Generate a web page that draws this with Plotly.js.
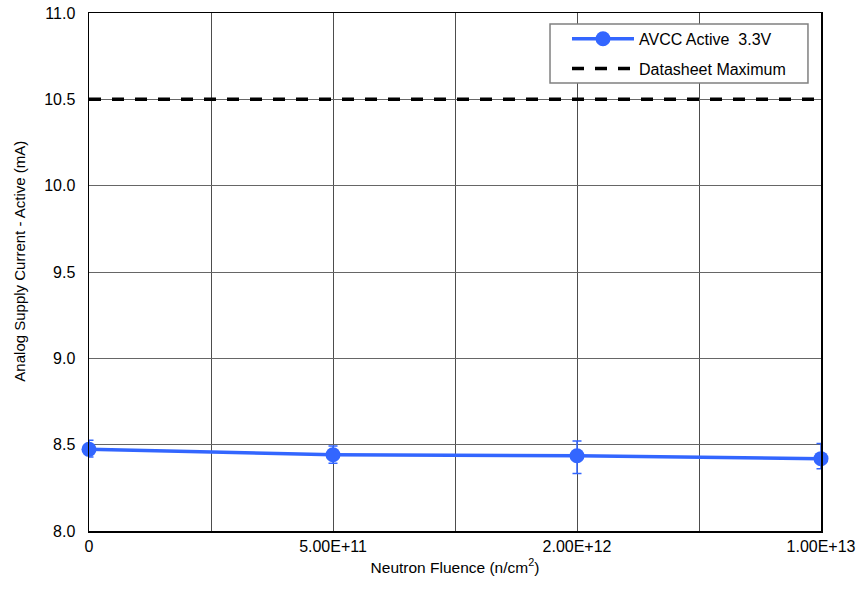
<!DOCTYPE html>
<html>
<head>
<meta charset="utf-8">
<script src="https://cdn.plot.ly/plotly-3.0.1.min.js"></script>
<style>html,body{margin:0;padding:0;background:#fff}#chart{width:859px;height:590px}</style>
</head>
<body>
<div id="chart"></div>
<script>
// Data
const fluenceLabels = ['0', '5.00E+11', '2.00E+12', '1.00E+13'];
const avccActive = [8.473, 8.442, 8.436, 8.419];
const errPlus = [0.052, 0.05, 0.085, 0.088];
const errMinus = [0.045, 0.05, 0.103, 0.058];
const datasheetMax = [10.5, 10.5];
const yTickVals = [8.0, 8.5, 9.0, 9.5, 10.0, 10.5, 11.0];
const yTickText = ['8.0', '8.5', '9.0', '9.5', '10.0', '10.5', '11.0'];

const xIdx = fluenceLabels.map((_, i) => i);
const xMid = xIdx.slice(1).map(i => i - 0.5);

const blue = '#3366FF';
const font = 'Liberation Sans, Arial, sans-serif';

const traces = [
  {
    x: xIdx, y: avccActive, type: 'scatter', mode: 'lines+markers',
    name: 'AVCC Active  3.3V', legendgroup: 'a',
    line: {color: blue, width: 3.5},
    marker: {color: blue, size: 15},
    error_y: {type: 'data', symmetric: false, array: errPlus, arrayminus: errMinus,
              color: blue, thickness: 1.5, width: 4.5},
    cliponaxis: false
  },
  {
    x: [xIdx[0], xIdx[xIdx.length - 1]], y: datasheetMax, type: 'scatter', mode: 'lines',
    name: 'Datasheet Maximum', legendgroup: 'b',
    line: {color: '#000000', width: 3.5, dash: '12px,11px'}
  }
];

const layout = {
  width: 859, height: 590,
  margin: {l: 89, r: 38, t: 13, b: 59},
  paper_bgcolor: '#ffffff', plot_bgcolor: '#ffffff',
  font: {family: font, size: 16, color: '#000'},
  showlegend: true,
  legend: {
    x: 0.653, y: 0.983, xanchor: 'left', yanchor: 'top',
    bgcolor: 'rgba(0,0,0,0)', borderwidth: 0,
    font: {family: font, size: 16, color: '#000'},
    itemwidth: 62, traceorder: 'grouped', tracegroupgap: 6
  },
  shapes: [{
    type: 'rect', xref: 'paper', yref: 'paper', layer: 'above',
    x0: 0.6298, x1: 0.9822, y0: 0.8649, y1: 0.9788,
    fillcolor: '#ffffff', line: {color: '#808080', width: 1.5}
  }],
  annotations: [{
    text: 'Analog Supply Current - Active (mA)', textangle: -90,
    xref: 'paper', yref: 'paper', x: 0, y: 0.52, xanchor: 'center', yanchor: 'middle',
    xshift: -69, showarrow: false, font: {family: font, size: 15, color: '#000'}
  }],
  xaxis: {
    range: [0, 3], tickmode: 'array', tickvals: xIdx, ticktext: fluenceLabels,
    showgrid: true, gridcolor: '#4d4d4d', gridwidth: 1,
    minor: {tickmode: 'array', tickvals: xMid, showgrid: true, gridcolor: '#4d4d4d', gridwidth: 1, ticks: ''},
    showline: true, linecolor: '#000', linewidth: 1.5, mirror: true,
    ticks: '', zeroline: false, fixedrange: true,
    tickfont: {family: font, size: 16},
    title: {text: 'Neutron Fluence (n/cm<sup>2</sup>)', font: {family: font, size: 15.5}, standoff: 8}
  },
  yaxis: {
    range: [8, 11], tickmode: 'array', tickvals: yTickVals, ticktext: yTickText,
    showgrid: true, gridcolor: '#666666', gridwidth: 1,
    showline: true, linecolor: '#000', linewidth: 1.5, mirror: true,
    ticks: 'outside', ticklen: 9, tickcolor: 'rgba(0,0,0,0)',
    zeroline: false, fixedrange: true,
    tickfont: {family: font, size: 16}
  }
};

Plotly.newPlot('chart', traces, layout, {displayModeBar: false, staticPlot: true});
</script>
</body>
</html>
